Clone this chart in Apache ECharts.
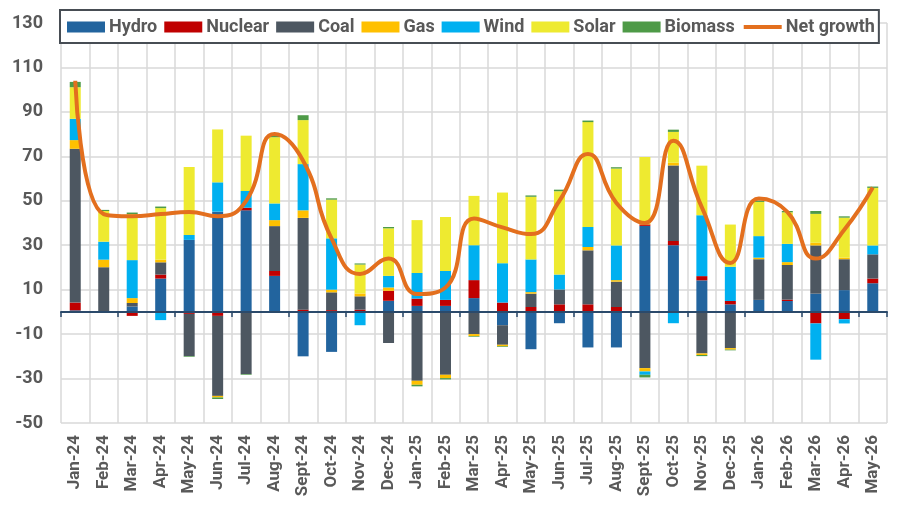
<!DOCTYPE html>
<html>
<head>
<meta charset="utf-8">
<script src="https://cdn.jsdelivr.net/npm/echarts@6/dist/echarts.min.js"></script>
<style>
  html, body { margin: 0; padding: 0; background: #fff; }
  #chart { width: 910px; height: 513px; }
</style>
</head>
<body>
<div id="chart"></div>
<script>
const categories = ['Jan-24', 'Feb-24', 'Mar-24', 'Apr-24', 'May-24', 'Jun-24', 'Jul-24', 'Aug-24', 'Sept-24', 'Oct-24',
    'Nov-24', 'Dec-24', 'Jan-25', 'Feb-25', 'Mar-25', 'Apr-25', 'May-25', 'Jun-25', 'Jul-25', 'Aug-25',
    'Sept-25', 'Oct-25', 'Nov-25', 'Dec-25', 'Jan-26', 'Feb-26', 'Mar-26', 'Apr-26', 'May-26'];

const hydro = [0.7, 0.3, 2.4, 15.0, 32.4, 45.1, 45.7, 16.2, -20, -18, 0, 5, 2.7, 2.7, 6.2, -6, -16.8, -5.1, -16, -16,
    38.7, 30, 14.2, 3.4, 5.4, 4.9, 8.2, 9.8, 12.9];
const nuclear = [3.5, 0, -1.8, 1.8, -0.9, -1.8, 1.2, 2.2, 1.0, 0.8, 1.0, 4.5, 3.3, 2.7, 8.1, 4.2, 2.2, 3.4, 3.4, 2.2,
    0.7, 1.9, 1.9, 1.5, 0, 0.6, -5.2, -3.3, 2.1];
const coal = [69.2, 19.8, 1.6, 5.5, -19.0, -36.0, -28, 20.2, 41.3, 8, 6, -14, -31, -28.3, -10, -8.8, 6, 6.7, 24.3, 11.4,
    -25.3, 34, -18.7, -16.3, 18.3, 15.6, 21.7, 13.9, 10.9];
const gas = [3.9, 3.4, 2.2, 1.2, 0, -0.7, 0, 2.7, 3.4, 1.2, 1.3, 1.5, -1.8, -1.5, -0.9, -0.7, 0.7, 0, 1.5, 0.7,
    -1.5, 1.2, -0.7, -0.7, 0.7, 1.3, 1.2, 0.7, 0];
const wind = [9.6, 8.1, 17.1, -3.7, 2.2, 13.2, 7.5, 7.5, 20.8, 23.1, -6, 5.2, 11.5, 13, 15.7, 17.7, 14.7, 6.7, 9, 15.6,
    -1.5, -5.1, 27.4, 15.4, 9.7, 8.2, -16.3, -1.9, 4];
const solar = [14.2, 13.8, 20.7, 23.2, 30.6, 23.8, 24.9, 29.8, 19.8, 17.4, 13, 21.4, 23.8, 24.3, 22.2, 31.8, 28.2, 37.5, 47.2, 34.6,
    30.3, 13.9, 22.3, 19, 15.4, 14.2, 13, 18, 25.9];
const biomass = [2.4, 0.5, 0.7, 0.7, -0.3, -0.7, -0.3, 1.2, 2.2, 0.6, 0.5, 0.6, -0.7, -0.6, -0.3, -0.3, 0.6, 0.7, 0.7, 0.6,
    -1.2, 1, -0.5, -0.3, 0.6, 0.6, 1.3, 0.6, 0.6];
const netGrowth = [104, 44, 43, 44, 45, 43, 50, 80, 68, 33, 17, 24, 8, 11, 42, 38, 35, 50, 71, 49,
    40, 77, 47, 22, 51, 45, 24, 37, 56];

const yTicks = [-50, -30, -10, 10, 30, 50, 70, 90, 110, 130];

const textColor = '#595959';
const font = 'Roboto';
const lineColor = '#e36f1e';

function barSeries(name, data, color) {
    return {
        name: name,
        type: 'bar',
        stack: 'total',
        barWidth: 11,
        itemStyle: {color: color},
        data: data
    };
}

const chart = echarts.init(document.getElementById('chart'));
chart.setOption({
    animation: false,
    textStyle: {fontFamily: font},
    grid: {left: 61, right: 23, top: 23, bottom: 90},
    legend: {
        left: 60,
        top: 10,
        padding: [8, 4, 7, 7],
        itemGap: 7,
        itemWidth: 38,
        itemHeight: 11,
        backgroundColor: '#fff',
        borderColor: '#474d54',
        borderWidth: 2,
        textStyle: {fontSize: 18, fontWeight: 'bold', color: textColor, fontFamily: font, padding: [0, 0, 0, -1]},
        data: [
            {name: 'Hydro', icon: 'rect'},
            {name: 'Nuclear', icon: 'rect'},
            {name: 'Coal', icon: 'rect'},
            {name: 'Gas', icon: 'rect'},
            {name: 'Wind', icon: 'rect'},
            {name: 'Solar', icon: 'rect'},
            {name: 'Biomass', icon: 'rect'},
            {
                name: 'Net growth',
                itemStyle: {color: 'rgba(0,0,0,0)', borderColor: 'rgba(0,0,0,0)', borderWidth: 0},
                lineStyle: {color: lineColor, width: 4}
            }
        ]
    },
    xAxis: [
        {
            type: 'category',
            data: categories,
            axisLine: {show: false, onZero: false},
            axisTick: {show: false},
            splitLine: {show: true, interval: 0, lineStyle: {color: '#d9d9d9', width: 1.5}},
            axisLabel: {
                rotate: 90, margin: 12, interval: 0,
                fontSize: 17, fontWeight: 'bold', color: textColor, fontFamily: font
            }
        },
        {
            type: 'category',
            data: categories,
            position: 'bottom',
            z: 3,
            axisLine: {show: true, onZero: true, lineStyle: {color: '#2b4a6b', width: 2}},
            axisTick: {show: true, length: 5, lineStyle: {color: '#2b4a6b', width: 1.5}},
            axisLabel: {show: false},
            splitLine: {show: false}
        }
    ],
    yAxis: {
        type: 'value',
        min: yTicks[0],
        max: yTicks[yTicks.length - 1],
        interval: 20,
        axisLine: {show: false},
        axisTick: {show: false},
        splitLine: {lineStyle: {color: '#d9d9d9', width: 1.5}},
        axisLabel: {margin: 18, fontSize: 18, fontWeight: 'bold', color: textColor, fontFamily: font}
    },
    series: [
        barSeries('Hydro', hydro, '#22649e'),
        barSeries('Nuclear', nuclear, '#c00000'),
        barSeries('Coal', coal, '#4d5761'),
        barSeries('Gas', gas, '#ffc000'),
        barSeries('Wind', wind, '#00b0f0'),
        barSeries('Solar', solar, '#eeea30'),
        barSeries('Biomass', biomass, '#4e9a47'),
        {
            name: 'Net growth',
            type: 'line',
            smooth: 0.5,
            symbol: 'none',
            z: 5,
            lineStyle: {color: lineColor, width: 4},
            itemStyle: {color: lineColor},
            data: netGrowth
        }
    ]
});
</script>
</body>
</html>
